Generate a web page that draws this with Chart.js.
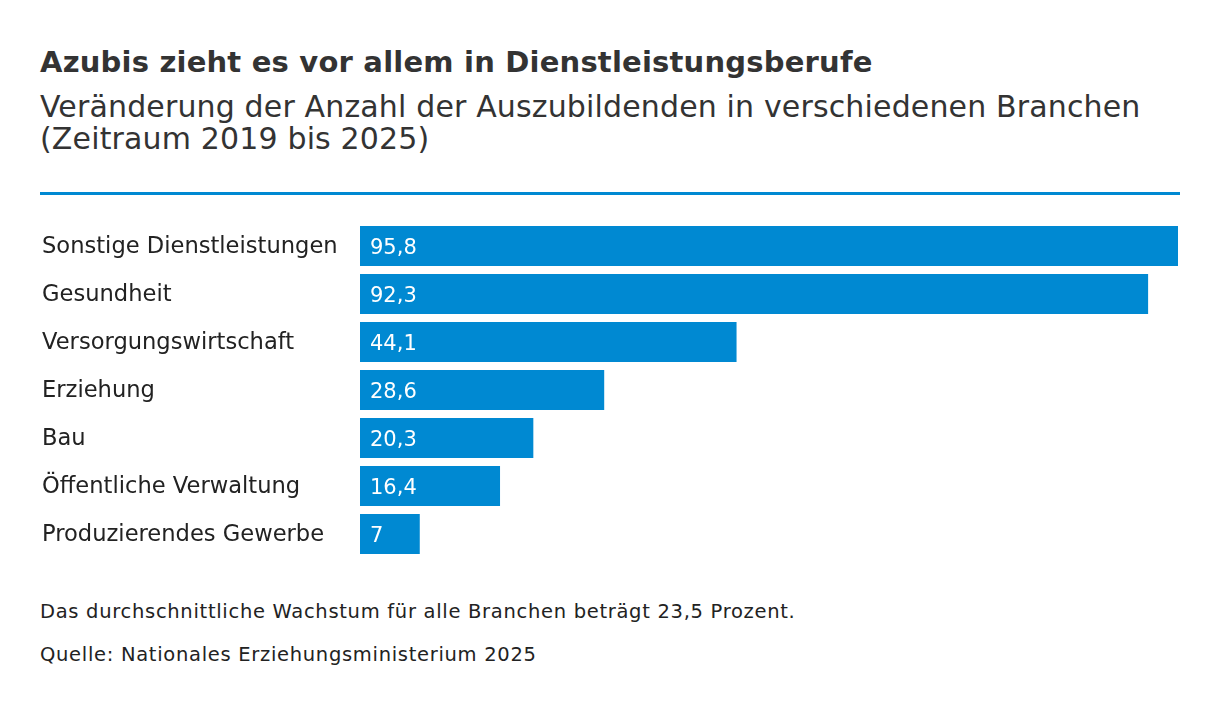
<!DOCTYPE html>
<html>
<head>
  <title>Azubis</title>
  <script src="https://cdn.jsdelivr.net/npm/chart.js"></script>
  <style>
    body { margin: 0; background: #fff; font-family: "DejaVu Sans", sans-serif; color: #333; }
    #wrap { position: relative; width: 1220px; height: 708px; }
    h1 { position: absolute; left: 40px; top: 45px; margin: 0; font-size: 29px; font-weight: 700; letter-spacing: 0.2px; color: #333; line-height: normal; }
    .sub { position: absolute; left: 40px; top: 91px; margin: 0; font-size: 30px; line-height: 32px; letter-spacing: 0.15px; color: #333; }
    .rule { position: absolute; left: 40px; top: 192px; width: 1140px; height: 3px; background: #0089d2; }
    #chart { position: absolute; left: 0; top: 222px; }
    .note { position: absolute; left: 40px; font-size: 19.5px; letter-spacing: 0.7px; color: #222; margin: 0; line-height: normal; }
  </style>
</head>
<body>
<div id="wrap">
  <h1>Azubis zieht es vor allem in Dienstleistungsberufe</h1>
  <p class="sub">Veränderung der Anzahl der Auszubildenden in verschiedenen Branchen<br>(Zeitraum 2019 bis 2025)</p>
  <div class="rule"></div>
  <canvas id="chart" width="1220" height="336"></canvas>
  <p class="note" style="top:600px">Das durchschnittliche Wachstum für alle Branchen beträgt 23,5 Prozent.</p>
  <p class="note" style="top:643px">Quelle: Nationales Erziehungsministerium 2025</p>
</div>
<script>
  const branchen = ['Sonstige Dienstleistungen', 'Gesundheit', 'Versorgungswirtschaft', 'Erziehung', 'Bau', 'Öffentliche Verwaltung', 'Produzierendes Gewerbe'];
  const wachstum = [95.8, 92.3, 44.1, 28.6, 20.3, 16.4, 7];

  const fmt = v => String(v).replace('.', ',');

  // Werte weiss in den Balken, linksbuendig
  const valueLabels = {
    id: 'valueLabels',
    afterDatasetsDraw(chart) {
      const ctx = chart.ctx;
      ctx.save();
      ctx.fillStyle = '#fff';
      ctx.font = '21px "DejaVu Sans"';
      ctx.textBaseline = 'alphabetic';
      chart.getDatasetMeta(0).data.forEach((bar, i) => {
        ctx.fillText(fmt(wachstum[i]), bar.base + 10, bar.y + 7.5);
      });
      ctx.restore();
    }
  };

  new Chart(document.getElementById('chart'), {
    type: 'bar',
    data: {
      labels: branchen,
      datasets: [{
        data: wachstum,
        backgroundColor: '#0089d2',
        categoryPercentage: 1,
        barPercentage: 40 / 48
      }]
    },
    options: {
      indexAxis: 'y',
      responsive: false,
      animation: false,
      layout: { autoPadding: false, padding: { left: 42, right: 42, top: 0, bottom: 0 } },
      plugins: { legend: { display: false }, tooltip: { enabled: false } },
      scales: {
        x: { display: false, min: 0, max: 95.8 },
        y: {
          grid: { display: false, drawTicks: false },
          border: { display: false },
          ticks: { crossAlign: 'far', padding: 0, labelOffset: 1.5, color: '#222', font: { family: 'DejaVu Sans', size: 22.6 } },
          afterFit(scale) {
            scale.width = 318;
            scale.paddingTop = 0;
            scale.paddingBottom = 0;
          }
        }
      }
    },
    plugins: [valueLabels]
  });
</script>
</body>
</html>
